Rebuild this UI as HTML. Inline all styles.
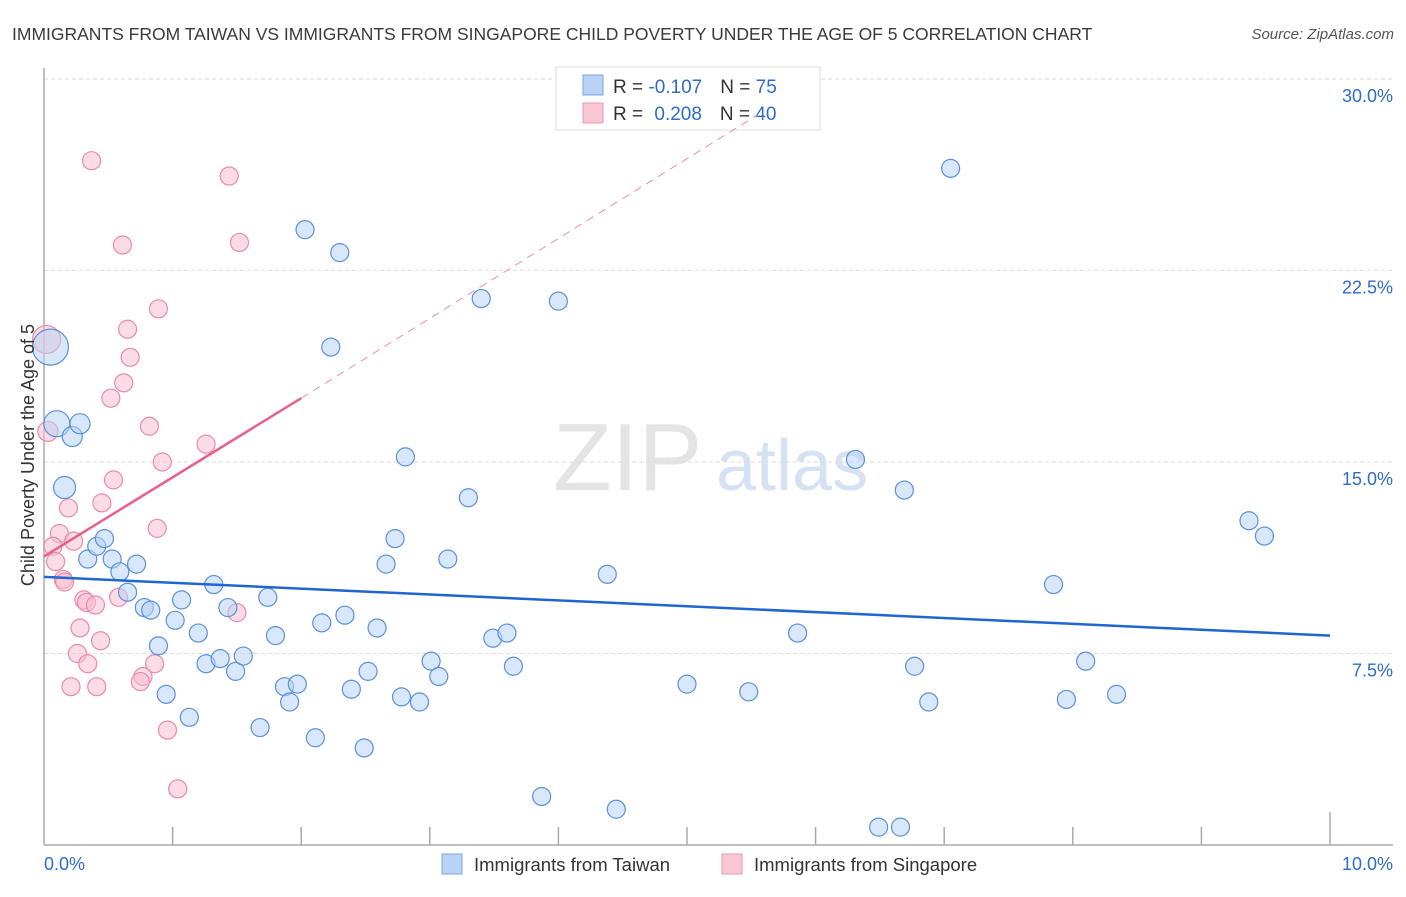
<!DOCTYPE html>
<html><head><meta charset="utf-8"><style>
body{margin:0;background:#fff;font-family:"Liberation Sans",sans-serif;}
svg text{font-family:"Liberation Sans",sans-serif;}
</style></head><body>
<svg id="chart" width="1406" height="892" xmlns="http://www.w3.org/2000/svg">
<text x="12" y="40" font-size="17.5" fill="#3a3a3a">IMMIGRANTS FROM TAIWAN VS IMMIGRANTS FROM SINGAPORE CHILD POVERTY UNDER THE AGE OF 5 CORRELATION CHART</text>
<text x="1394" y="39" font-size="15" fill="#555" font-style="italic" text-anchor="end">Source: ZipAtlas.com</text>
<text x="553" y="490" font-size="96" fill="#e4e4e4" font-family="Liberation Serif">ZIP</text>
<text x="716" y="490" font-size="72" fill="#d4e2f4">atlas</text>
<g id="grid"></g>
<g id="axes"></g>
<g id="lines"></g>
<g id="pts"></g>
<text transform="translate(34,455) rotate(-90)" font-size="18" fill="#333" text-anchor="middle">Child Poverty Under the Age of 5</text>
<g>
<rect x="556" y="67" width="264" height="63" fill="#fff" stroke="#ddd"/>
<rect x="583" y="75" width="20" height="20" fill="#b8d3f4" stroke="#7aa6e0"/>
<rect x="583" y="103" width="20" height="20" fill="#f9c6d4" stroke="#eb9ab2"/>
<text x="613" y="93" font-size="19" fill="#333">R = <tspan fill="#2f6bcc">-0.107</tspan><tspan dx="18">N = </tspan><tspan fill="#2f6bcc">75</tspan></text>
<text x="613" y="120" font-size="19" fill="#333">R = <tspan fill="#2f6bcc" dx="6">0.208</tspan><tspan dx="18">N = </tspan><tspan fill="#2f6bcc">40</tspan></text>
</g>
<g>
<rect x="442" y="854" width="20" height="20" fill="#b8d3f4" stroke="#7aa6e0"/>
<text x="474" y="871" font-size="18.5" fill="#333">Immigrants from Taiwan</text>
<rect x="722" y="854" width="20" height="20" fill="#f9c6d4" stroke="#eb9ab2"/>
<text x="754" y="871" font-size="18.5" fill="#333">Immigrants from Singapore</text>
</g>
</svg>
<script>
const yTicks=[7.5,15,22.5,30];
const yTickLabels=["7.5%","15.0%","22.5%","30.0%"];
const xTickLabels=["0.0%","10.0%"];
const blueX=[0.05,0.1,0.22,0.28,0.16,2.03,2.3,2.23,3.4,4.0,7.05,2.81,3.3,6.31,6.69,9.37,9.49,0.34,0.41,0.47,0.53,0.59,0.65,0.72,0.78,0.83,0.89,0.95,1.02,1.07,1.13,1.2,1.26,1.32,1.37,1.43,1.49,1.55,1.68,1.74,1.8,1.87,1.91,1.97,2.11,2.16,2.34,2.39,2.49,2.52,2.59,2.66,2.73,2.78,2.92,3.01,3.07,3.14,3.49,3.6,3.65,3.87,4.38,4.45,5.0,5.48,5.86,6.49,6.66,6.77,6.88,7.85,7.95,8.1,8.34];
const blueY=[19.5,16.5,16.0,16.5,14.0,24.1,23.2,19.5,21.4,21.3,26.5,15.2,13.6,15.1,13.9,12.7,12.1,11.2,11.7,12.0,11.2,10.7,9.9,11.0,9.3,9.2,7.8,5.9,8.8,9.6,5.0,8.3,7.1,10.2,7.3,9.3,6.8,7.4,4.6,9.7,8.2,6.2,5.6,6.3,4.2,8.7,9.0,6.1,3.8,6.8,8.5,11.0,12.0,5.8,5.6,7.2,6.6,11.2,8.1,8.3,7.0,1.9,10.6,1.4,6.3,6.0,8.3,0.7,0.7,7.0,5.6,10.2,5.7,7.2,5.9];
const blueR=[18,13,10,10,11,9,9,9,9,9,9,9,9,9,9,9,9,9,9,9,9,9,9,9,9,9,9,9,9,9,9,9,9,9,9,9,9,9,9,9,9,9,9,9,9,9,9,9,9,9,9,9,9,9,9,9,9,9,9,9,9,9,9,9,9,9,9,9,9,9,9,9,9,9,9];
const pinkX=[0.37,1.44,0.61,1.52,0.89,0.65,0.67,0.62,0.52,0.02,0.03,0.82,0.92,1.26,0.54,0.19,0.45,0.88,0.12,0.07,0.23,0.09,0.15,0.16,0.31,0.33,0.4,0.58,0.28,1.5,0.44,0.26,0.34,0.86,0.77,0.75,0.21,0.41,0.96,1.04];
const pinkY=[26.8,26.2,23.5,23.6,21.0,20.2,19.1,18.1,17.5,19.8,16.2,16.4,15.0,15.7,14.3,13.2,13.4,12.4,12.2,11.7,11.9,11.1,10.4,10.3,9.6,9.5,9.4,9.7,8.5,9.1,8.0,7.5,7.1,7.1,6.6,6.4,6.2,6.2,4.5,2.2];
const pinkR=[9,9,9,9,9,9,9,9,9,14,10,9,9,9,9,9,9,9,9,9,9,9,9,9,9,9,9,9,9,9,9,9,9,9,9,9,9,9,9,9];
const blueTrend=[10.5,8.2];   // y at x=0 and x=10
const pinkTrend=[11.3,17.5];  // y at x=0 and x=2
const pinkDashEnd=[5.55,28.6];
const X0=44,X1=1330,Y0=845,YSCALE=191.5/7.5;
function sx(v){return X0+(X1-X0)*v/10;}
function sy(v){return Y0-v*YSCALE;}
const NS="http://www.w3.org/2000/svg";
function mk(tag,attrs,parent){const e=document.createElementNS(NS,tag);for(const k in attrs)e.setAttribute(k,attrs[k]);parent.appendChild(e);return e;}
const grid=document.getElementById('grid'),axes=document.getElementById('axes'),lines=document.getElementById('lines'),pts=document.getElementById('pts');
yTicks.forEach((t,i)=>{
 const l=mk('line',{x1:X0,x2:1393,y1:sy(t),y2:sy(t),stroke:'#dcdcdc','stroke-dasharray':'4,3'},grid);
 
 
 const tx=mk('text',{x:1393,y:sy(t)+23,'font-size':18,fill:'#2f6bcc','text-anchor':'end'},grid);
 tx.textContent=yTickLabels[i];
 
 
});
let a=mk('line',{x1:X0,x2:X0,y1:68,y2:Y0,stroke:'#aaa','stroke-width':1.5},axes);


a=mk('line',{x1:X0,x2:1393,y1:Y0,y2:Y0,stroke:'#aaa','stroke-width':1.5},axes);


for(let i=1;i<=10;i++){
 const t=mk('line',{x1:sx(i),x2:sx(i),y1:i==10?812:827,y2:Y0,stroke:'#aaa','stroke-width':1.5},axes);
 
 
}
[[0,'start',X0],[1,'end',1393]].forEach(([i,anc,x])=>{
 const tx=mk('text',{x:x,y:870,'font-size':18,fill:'#2f6bcc','text-anchor':anc},axes);
 tx.textContent=xTickLabels[i];
 
 
});
function drawPts(xs,ys,rs,fill,stroke,name){
 xs.forEach((x,i)=>{
  const c=mk('circle',{cx:sx(x),cy:sy(ys[i]),r:rs[i],fill:fill,'fill-opacity':0.55,stroke:stroke,'stroke-width':1.2},pts);
  
  
 });
}
drawPts(pinkX,pinkY,pinkR,'#f7bdd0','#e98aab','singapore-point');
drawPts(blueX,blueY,blueR,'#b8d3f4','#5a90dc','taiwan-point');
let ln=mk('line',{x1:sx(2),y1:sy(pinkTrend[1]),x2:sx(pinkDashEnd[0]),y2:sy(pinkDashEnd[1]),stroke:'#eb8fae','stroke-width':1,'stroke-dasharray':'8,6'},lines);


ln=mk('line',{x1:sx(0),y1:sy(pinkTrend[0]),x2:sx(2),y2:sy(pinkTrend[1]),stroke:'#e8608c','stroke-width':2.5},lines);


ln=mk('line',{x1:sx(0),y1:sy(blueTrend[0]),x2:sx(10),y2:sy(blueTrend[1]),stroke:'#1f66d0','stroke-width':2.5},lines);


pts.parentNode.appendChild(lines);
</script>
</body></html>
